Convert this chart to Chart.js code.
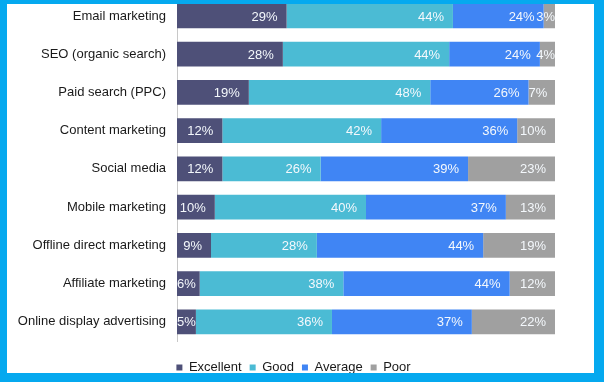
<!DOCTYPE html>
<html><head><meta charset="utf-8">
<script src="https://cdn.jsdelivr.net/npm/chart.js@4.4.0/dist/chart.umd.min.js"></script>
<style>
html,body{margin:0;padding:0;width:604px;height:382px;overflow:hidden;background:#05A9EF;}
#card{position:absolute;left:7px;top:4px;width:587px;height:369px;background:#ffffff;overflow:hidden;}
#wrap{position:absolute;left:0;top:-26px;width:587px;height:406px;}
</style></head><body>
<div id="card"><div id="wrap"><canvas id="c"></canvas></div></div>
<script>
const categories = ['Email marketing','SEO (organic search)','Paid search (PPC)','Content marketing','Social media','Mobile marketing','Offline direct marketing','Affiliate marketing','Online display advertising'];
const seriesNames = ['Excellent','Good','Average','Poor'];
const excellent = [29,28,19,12,12,10,9,6,5];
const good      = [44,44,48,42,26,40,28,38,36];
const average   = [24,24,26,36,39,37,44,44,37];
const poor      = [3,4,7,10,23,13,19,12,22];
const seriesColors = ['#4E5078','#4BBBD4','#4085F4','#A0A0A0'];

const FONT = '"Liberation Sans", Arial, sans-serif';
Chart.defaults.font.family = FONT;
Chart.defaults.font.size = 13;
Chart.defaults.color = '#1a1a1a';

const segLabels = {
  id: 'segLabels',
  afterDatasetsDraw(chart) {
    const ctx = chart.ctx;
    ctx.save();
    ctx.font = '13px ' + FONT;
    ctx.fillStyle = '#f4f8fc';
    ctx.textBaseline = 'middle';
    ctx.textAlign = 'left';
    chart.data.datasets.forEach((ds, di) => {
      const meta = chart.getDatasetMeta(di);
      meta.data.forEach((bar, i) => {
        const txt = ds.data[i] + '%';
        const w = ctx.measureText(txt).width;
        const start = Math.min(bar.base, bar.x), end = Math.max(bar.base, bar.x);
        let left = end - 9 - w;
        if (left < start) {
          left = start;
          if (left + w > end) left = end - w;
        }
        ctx.fillText(txt, left, bar.y + 1);
      });
    });
    ctx.restore();
  }
};

const seriesData = [excellent, good, average, poor];
new Chart(document.getElementById('c'), {
  type: 'bar',
  data: {
    labels: categories,
    datasets: seriesNames.map((n, k) => ({
      label: n,
      data: seriesData[k],
      backgroundColor: seriesColors[k],
      borderWidth: 0,
      xAxisID: 'x',
      yAxisID: 'y',
      barPercentage: 0.65,
      categoryPercentage: 1
    }))
  },
  options: {
    indexAxis: 'y',
    responsive: true,
    maintainAspectRatio: false,
    animation: false,
    layout: { padding: { top: 0, right: 14, left: 0, bottom: 0 } },
    scales: {
      x: {
        stacked: true, min: 0, max: 100, display: true, position: 'bottom',
        ticks: { display: false },
        grid: { display: false, drawTicks: false },
        border: { display: false },
        afterFit(s) { s.height = 12; }
      },
      y: {
        stacked: true, position: 'left',
        ticks: { padding: 11, color: '#1a1a1a', font: { size: 13 } },
        grid: { display: false, drawTicks: false },
        border: { display: true, color: '#c8c8c8', width: 1 },
        afterFit(s) { s.width = 170; }
      },
      y2: {
        type: 'category', position: 'right', display: true,
        ticks: { display: false },
        grid: { display: false, drawTicks: false },
        border: { display: false },
        afterFit(s) { s.width = 25; }
      }
    },
    plugins: {
      legend: {
        position: 'bottom',
        labels: { boxWidth: 6, boxHeight: 6, padding: 8, color: '#1a1a1a', font: { size: 13 } }
      },
      tooltip: { enabled: false }
    }
  },
  plugins: [segLabels]
});
</script>
</body></html>
